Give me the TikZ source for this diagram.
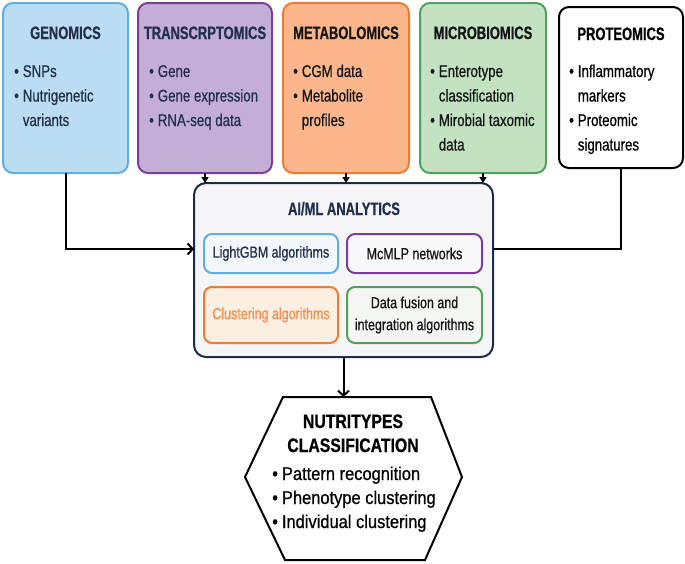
\documentclass[tikz,border=0pt]{standalone}
\usepackage{fontspec}
\setmainfont{Liberation Sans}[FakeStretch=0.78, FakeBold=0.7]
\newfontfamily\ttlfont{Liberation Sans}[FakeStretch=0.72, FakeBold=0.7]
\newfontfamily\hexttlfont{Liberation Sans}[FakeStretch=0.81, FakeBold=0.7]
\newfontfamily\hexbodyfont{Liberation Sans}[FakeStretch=0.89, FakeBold=0.7]
\usetikzlibrary{arrows.meta}
\definecolor{gfill}{HTML}{BBDDF2}
\definecolor{gdraw}{HTML}{62AEDD}
\definecolor{tfill}{HTML}{C5AED6}
\definecolor{tdraw}{HTML}{7A3D98}
\definecolor{mfill}{HTML}{FBB68B}
\definecolor{mdraw}{HTML}{EE7D31}
\definecolor{bfill}{HTML}{C3E2C1}
\definecolor{bdraw}{HTML}{4DA35A}
\definecolor{aifill}{HTML}{F5F5F7}
\definecolor{aidraw}{HTML}{1C2B4A}
\definecolor{navy}{HTML}{22304D}
\definecolor{ink}{HTML}{161616}
\definecolor{lgfill}{HTML}{F3F7FB}
\definecolor{mcfill}{HTML}{F8F7FA}
\definecolor{clfill}{HTML}{FDEEE2}
\definecolor{cltext}{HTML}{F2914D}
\definecolor{dffill}{HTML}{F3F6F3}
\newcommand\blist[1]{\begin{tabular}[t]{@{}l@{\hspace{4pt}}l@{}}#1\end{tabular}}
\newcommand\bu{\textbullet}
\begin{document}
\begin{tikzpicture}[x=1pt,y=-1pt,
  box/.style={rectangle, rounded corners=10pt, line width=2pt, inner sep=0pt, outer sep=0pt},
  inbox/.style={rectangle, rounded corners=8pt, line width=2pt, inner sep=0pt, outer sep=0pt,
    minimum width=134pt, font=\fontsize{16}{22}\selectfont, align=center},
  ttl/.style={font=\ttlfont\bfseries\fontsize{18}{22}\selectfont, anchor=base, inner sep=0pt},
  body/.style={font=\fontsize{17}{24.5}\selectfont, anchor=base west, inner sep=0pt},
  conn/.style={line width=2pt, draw=black},
  arr/.style={conn, -{Straight Barb[length=5pt,width=11pt]}},
  tri/.style={line width=1.5pt, -{Triangle[length=6pt,width=7pt]}}]
\useasboundingbox (0,0) rectangle (685,563);

% top boxes
\node[box, fill=gfill, draw=gdraw, minimum width=125pt, minimum height=170pt] (gen) at (65.5,88) {};
\node[box, fill=tfill, draw=tdraw, minimum width=134pt, minimum height=170pt] (tra) at (205,88) {};
\node[box, fill=mfill, draw=mdraw, minimum width=126pt, minimum height=170pt] (met) at (346,88) {};
\node[box, fill=bfill, draw=bdraw, minimum width=126pt, minimum height=170pt] (mic) at (483,88) {};
\node[box, fill=white, draw=black, minimum width=124pt, minimum height=161pt] (pro) at (621,87.5) {};

\node[ttl, text=navy] (genT) at (65.5,39) {GENOMICS};
\node[ttl, text=navy] (traT) at (205,39) {TRANSCRPTOMICS};
\node[ttl, text=ink] (metT) at (346,39) {METABOLOMICS};
\node[ttl, text=ink] (micT) at (483,39) {MICROBIOMICS};
\node[ttl, text=black] (proT) at (621,40) {PROTEOMICS};

\node[body, text=navy] (genL) at (14,77) {\blist{\bu & SNPs\\ \bu & Nutrigenetic\\ & variants}};
\node[body, text=navy] (traL) at (149,77) {\blist{\bu & Gene\\ \bu & Gene expression\\ \bu & RNA-seq data}};
\node[body, text=ink] (metL) at (293,77) {\blist{\bu & CGM data\\ \bu & Metabolite\\ & profiles}};
\node[body, text=ink] (micL) at (430,77) {\blist{\bu & Enterotype\\ & classification\\ \bu & Mirobial taxomic\\ & data}};
\node[body, text=black] (proL) at (569,77) {\blist{\bu & Inflammatory\\ & markers\\ \bu & Proteomic\\ & signatures}};

% AI box
\node[box, rounded corners=12pt, fill=aifill, draw=aidraw, minimum width=299pt, minimum height=174pt] (ai) at (343.5,270) {};
\node[ttl, text=navy, font=\ttlfont\bfseries\fontsize{18}{22}\selectfont] (aiT) at (344,215) {AI/ML ANALYTICS};
\node[inbox, fill=lgfill, draw=gdraw, minimum height=39pt, text=navy] (lgb) at (271,253.5) {LightGBM algorithms};
\node[inbox, fill=mcfill, draw=tdraw, minimum height=39pt, minimum width=135pt, text=ink] (mcm) at (414.5,253.5) {McMLP networks};
\node[inbox, fill=clfill, draw=mdraw, minimum height=56pt, text=cltext] (clu) at (271,315) {Clustering algorithms};
\node[inbox, fill=dffill, draw=bdraw, minimum height=56pt, minimum width=135pt, text=ink] (dfu) at (414.5,315) {Data fusion and\\integration algorithms};

% hexagon
\draw[line width=2pt, fill=white] (283,397) -- (431,397) -- (462,477) -- (425,560) -- (285,560) -- (245,477) -- cycle;
\coordinate (hextop) at (343.5,397);
\node[inner sep=0pt, anchor=base, font=\hexttlfont\bfseries\fontsize{19.5}{24}\selectfont] (hexT) at (353,428)
  {\begin{tabular}[t]{@{}c@{}}NUTRITYPES\\CLASSIFICATION\end{tabular}};
\node[inner sep=0pt, anchor=base west, font=\hexbodyfont\fontsize{18.5}{24}\selectfont] (hexL) at (272,480)
  {\blist{\bu & Pattern recognition\\ \bu & Phenotype clustering\\ \bu & Individual clustering}};

% connectors
\coordinate (lineY) at (0,249);
\draw[arr] (gen.south) |- (ai.west |- lineY);
\draw[conn] (pro.south) |- (ai.east |- lineY);
\draw[tri] (tra.south) -- (tra.south |- ai.north);
\draw[tri] (met.south) -- (met.south |- ai.north);
\draw[tri] (mic.south) -- (mic.south |- ai.north);
\draw[arr] (ai.south) -- (hextop);
\end{tikzpicture}
\end{document}
